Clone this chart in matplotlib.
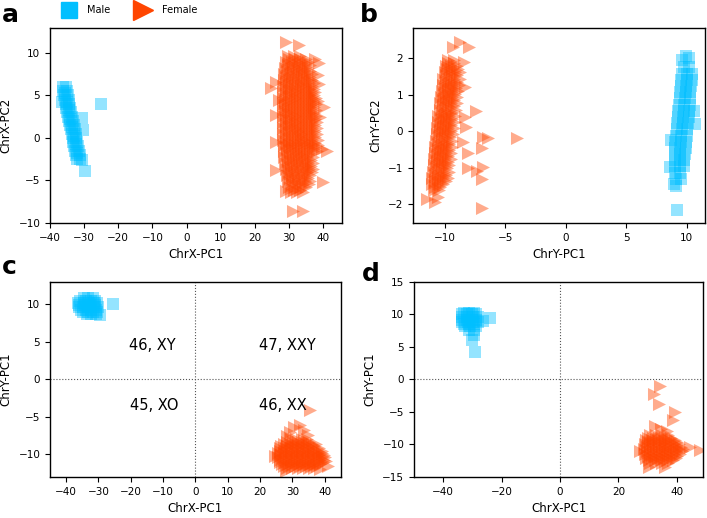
import matplotlib.pyplot as plt
from matplotlib.lines import Line2D
import numpy as np

MALE_COLOR = '#00BFFF'
FEMALE_COLOR = '#FF4500'

# ---- data: rows of (y, [x values]) plus loose points ----
# panel a: ChrX-PC1 vs ChrX-PC2
a_male_rows = [
    (5.5, [-36.2, -35.0]), (5.0, [-35.9, -34.8]), (4.5, [-35.7, -34.5]),
    (4.0, [-35.4, -34.3]), (3.5, [-35.2, -34.0]), (3.0, [-34.9, -33.8]),
    (2.5, [-34.7, -33.5]), (2.0, [-34.4, -33.3]), (1.5, [-34.2, -33.0]),
    (1.0, [-33.9, -32.8]), (0.5, [-33.7, -32.5]), (0.0, [-33.4, -32.3]),
    (-0.5, [-33.2, -32.0]), (-1.0, [-32.9, -31.8]), (-1.5, [-32.7, -31.5]),
    (-2.0, [-32.4, -31.3]), (-2.5, [-32.1, -31.1]),
    (5.25, [-35.5]), (4.25, [-35.0]), (3.25, [-34.5]), (2.25, [-34.0]),
    (1.25, [-33.5]), (0.25, [-33.0]), (-0.75, [-32.5]), (-1.75, [-32.0]),
]
a_male_extra = [(-36.5, 4.2), (-36.3, 6.0), (-35.2, 6.0), (-30.6, 2.3),
                (-30.2, 0.9), (-30.5, -2.6), (-25.2, 4.0), (-29.8, -3.9)]

a_female_rows = [
    (9.6, [29.6, 31.4, 33.2]),
    (9.25, [29.9, 31.6, 33.3, 35.0]),
    (8.9, [29.1, 30.8, 32.5, 34.2, 35.6]),
    (8.55, [29.6, 31.3, 33.0, 34.7, 36.2]),
    (8.2, [28.8, 30.5, 32.2, 33.9, 35.5]),
    (7.85, [29.4, 31.1, 32.8, 34.5, 36.0]),
    (7.5, [28.6, 30.3, 32.0, 33.7, 35.4, 36.6]),
    (7.15, [29.2, 30.9, 32.6, 34.3, 36.0]),
    (6.8, [28.4, 30.1, 31.8, 33.5, 35.2, 36.8]),
    (6.45, [29.1, 30.8, 32.5, 34.2, 35.9, 37.4]),
    (6.1, [28.3, 30.0, 31.7, 33.4, 35.1, 36.8]),
    (5.75, [29.0, 30.7, 32.4, 34.1, 35.8, 37.3]),
    (5.4, [28.2, 29.9, 31.6, 33.3, 35.0, 36.7, 37.6]),
    (5.05, [29.0, 30.7, 32.4, 34.1, 35.8, 37.3]),
    (4.7, [28.2, 29.9, 31.6, 33.3, 35.0, 36.7, 37.8]),
    (4.35, [28.9, 30.6, 32.3, 34.0, 35.7, 37.2, 38.4]),
    (4.0, [28.1, 29.8, 31.5, 33.2, 34.9, 36.6, 37.9]),
    (3.65, [28.9, 30.6, 32.3, 34.0, 35.7, 37.4]),
    (3.3, [28.1, 29.8, 31.5, 33.2, 34.9, 36.6, 38.0]),
    (2.95, [29.0, 30.7, 32.4, 34.1, 35.8, 37.4]),
    (2.6, [28.2, 29.9, 31.6, 33.3, 35.0, 36.7, 38.0]),
    (2.25, [29.0, 30.7, 32.4, 34.1, 35.8, 37.5]),
    (1.9, [28.2, 29.9, 31.6, 33.3, 35.0, 36.7, 38.2]),
    (1.55, [29.0, 30.7, 32.4, 34.1, 35.8, 37.5]),
    (1.2, [28.2, 29.9, 31.6, 33.3, 35.0, 36.7, 38.3]),
    (0.85, [29.1, 30.8, 32.5, 34.2, 35.9, 37.6]),
    (0.5, [28.3, 30.0, 31.7, 33.4, 35.1, 36.8, 38.3]),
    (0.15, [29.1, 30.8, 32.5, 34.2, 35.9, 37.6]),
    (-0.2, [28.3, 30.0, 31.7, 33.4, 35.1, 36.8, 38.4]),
    (-0.55, [29.2, 30.9, 32.6, 34.3, 36.0, 37.7]),
    (-0.9, [28.4, 30.1, 31.8, 33.5, 35.2, 36.9, 38.4]),
    (-1.25, [29.3, 31.0, 32.7, 34.4, 36.1, 37.7]),
    (-1.6, [28.5, 30.2, 31.9, 33.6, 35.3, 37.0, 38.2]),
    (-1.95, [29.4, 31.1, 32.8, 34.5, 36.2]),
    (-2.3, [28.6, 30.3, 32.0, 33.7, 35.4, 37.0]),
    (-2.65, [29.6, 31.3, 33.0, 34.7, 36.4]),
    (-3.0, [28.8, 30.5, 32.2, 33.9, 35.6, 37.0]),
    (-3.35, [29.8, 31.5, 33.2, 34.9, 36.5]),
    (-3.7, [29.0, 30.7, 32.4, 34.1, 35.8, 37.0]),
    (-4.05, [30.1, 31.8, 33.5, 35.2, 36.6]),
    (-4.4, [29.3, 31.0, 32.7, 34.4, 36.0]),
    (-4.75, [30.4, 32.1, 33.8, 35.5]),
    (-5.1, [29.6, 31.3, 33.0, 34.7, 36.2]),
    (-5.45, [30.8, 32.5, 34.2, 35.7]),
    (-5.8, [30.0, 31.7, 33.4, 35.0]),
    (-6.1, [31.4, 33.1]),
    (-6.4, [30.6, 32.3, 34.0]),
]
a_female_extra = [(29.0, 11.3), (32.9, 10.9), (37.5, 9.3), (38.8, 8.8), (24.8, 5.8),
                  (26.3, 6.6), (38.8, 6.3), (40.3, 3.6), (39.0, 2.4), (26.2, 2.7),
                  (26.3, -0.5), (39.7, -1.3), (41.2, -1.5), (26.3, -3.8), (39.8, -5.2),
                  (29.2, -6.2), (31.2, -8.6), (34.1, -8.6), (38.5, 7.4), (27.0, 4.5)]

# panel b: ChrY-PC1 vs ChrY-PC2
b_female_rows = [
    (1.95, [-9.7, -9.2]), (1.87, [-9.7, -9.25]), (1.78, [-9.9, -9.45, -9.0]),
    (1.70, [-9.8, -9.35, -8.9]), (1.61, [-10.0, -9.55, -9.1, -8.7]),
    (1.53, [-9.85, -9.4, -8.95]), (1.44, [-10.1, -9.65, -9.2, -8.75]),
    (1.36, [-9.9, -9.45, -9.0]), (1.27, [-10.15, -9.7, -9.25, -8.8]),
    (1.19, [-9.95, -9.5, -9.05]), (1.10, [-10.2, -9.75, -9.3, -8.85]),
    (1.02, [-10.05, -9.6, -9.15]), (0.93, [-10.3, -9.85, -9.4, -8.95]),
    (0.85, [-10.1, -9.65, -9.2]), (0.76, [-10.35, -9.9, -9.45, -9.0]),
    (0.68, [-10.15, -9.7, -9.25]), (0.59, [-10.4, -9.95, -9.5, -9.05]),
    (0.51, [-10.25, -9.8, -9.35]), (0.42, [-10.5, -10.05, -9.6, -9.15]),
    (0.34, [-10.3, -9.85, -9.4]), (0.25, [-10.55, -10.1, -9.65, -9.2]),
    (0.17, [-10.35, -9.9, -9.45]), (0.08, [-10.6, -10.15, -9.7, -9.25]),
    (0.00, [-10.4, -9.95, -9.5]), (-0.09, [-10.65, -10.2, -9.75, -9.3]),
    (-0.17, [-10.45, -10.0, -9.55]), (-0.26, [-10.7, -10.25, -9.8, -9.35]),
    (-0.34, [-10.5, -10.05, -9.6]), (-0.43, [-10.75, -10.3, -9.85, -9.4]),
    (-0.51, [-10.55, -10.1, -9.65]), (-0.60, [-10.8, -10.35, -9.9, -9.45]),
    (-0.68, [-10.6, -10.15, -9.7]), (-0.77, [-10.85, -10.4, -9.95, -9.5]),
    (-0.85, [-10.65, -10.2, -9.75]), (-0.94, [-10.9, -10.45, -10.0, -9.6]),
    (-1.02, [-10.7, -10.25, -9.8]), (-1.11, [-10.95, -10.5, -10.05, -9.65]),
    (-1.19, [-10.75, -10.3, -9.85]), (-1.28, [-11.0, -10.55, -10.1, -9.7]),
    (-1.36, [-10.8, -10.35, -9.9]), (-1.45, [-11.0, -10.55, -10.1]),
    (-1.53, [-10.8, -10.35]), (-1.62, [-10.9, -10.45]),
]
b_female_extra = [(-11.45, -1.85), (-10.8, -1.95), (-10.5, -1.8), (-8.7, 2.45), (-8.0, 2.3),
                  (-9.3, 2.3), (-8.4, 1.9), (-7.4, 0.55), (-8.3, 0.4), (-6.8, -0.15),
                  (-6.4, -0.2), (-4.0, -0.2), (-6.9, -0.45), (-8.1, -0.6), (-8.1, -1.0),
                  (-6.8, -0.98), (-7.3, -1.1), (-6.9, -1.3), (-6.9, -2.12), (-8.3, 1.2),
                  (-8.2, 0.1), (-8.5, -0.3)]

b_male_rows = [
    (1.75, [9.75, 10.2]), (1.58, [9.6, 10.05, 10.4]), (1.41, [9.55, 10.0, 10.4]),
    (1.24, [9.5, 9.95, 10.35]), (1.07, [9.45, 9.9, 10.3]), (0.90, [9.4, 9.85, 10.3]),
    (0.73, [9.35, 9.8, 10.25]), (0.56, [9.3, 9.75, 10.2]), (0.39, [9.25, 9.7, 10.15]),
    (0.22, [9.2, 9.65, 10.1]), (0.05, [9.15, 9.6, 10.05]), (-0.12, [9.1, 9.55, 10.0]),
    (-0.29, [9.05, 9.5, 9.95]), (-0.46, [9.0, 9.45, 9.9]), (-0.63, [9.0, 9.45, 9.85]),
    (-0.80, [9.0, 9.4, 9.8]), (-0.97, [9.0, 9.4, 9.75]), (-1.14, [9.05, 9.45]),
    (-1.31, [9.1, 9.5]),
]
b_male_extra = [(9.95, 2.05), (10.15, 2.0), (9.6, 1.95), (10.6, 0.55), (10.7, 0.2),
                (8.7, -0.25), (8.6, -0.98), (8.9, -1.45), (9.1, -1.5), (9.2, -2.17)]

# panel c: ChrX-PC1 vs ChrY-PC1
c_male_rows = [
    (10.8, [-34.6, -33.2, -31.8]), (10.5, [-35.6, -34.0, -32.4, -31.0]),
    (10.2, [-36.2, -34.6, -33.0, -31.4, -30.4]), (9.9, [-36.0, -34.3, -32.7, -31.1]),
    (9.6, [-36.0, -34.7, -33.1, -31.5, -30.2]), (9.3, [-35.4, -33.8, -32.2, -30.7]),
    (9.0, [-34.8, -33.3, -31.8, -30.5]), (8.7, [-33.6, -32.2, -30.9]),
]
c_male_extra = [(-25.6, 10.1), (-29.4, 8.6)]

c_female_rows = [
    (-8.0, [29.5, 31.2, 32.9, 34.6]),
    (-8.3, [28.4, 30.1, 31.8, 33.5, 35.2]),
    (-8.6, [27.5, 29.2, 30.9, 32.6, 34.3, 36.0, 37.3]),
    (-8.9, [26.6, 28.3, 30.0, 31.7, 33.4, 35.1, 36.8]),
    (-9.2, [26.2, 27.9, 29.6, 31.3, 33.0, 34.7, 36.4, 38.1]),
    (-9.5, [26.0, 27.7, 29.4, 31.1, 32.8, 34.5, 36.2, 37.9, 39.2]),
    (-9.8, [25.6, 27.3, 29.0, 30.7, 32.4, 34.1, 35.8, 37.5, 39.0]),
    (-10.1, [26.4, 28.1, 29.8, 31.5, 33.2, 34.9, 36.6, 38.3, 39.8]),
    (-10.4, [25.4, 27.1, 28.8, 30.5, 32.2, 33.9, 35.6, 37.3, 39.0, 40.2]),
    (-10.7, [26.2, 27.9, 29.6, 31.3, 33.0, 34.7, 36.4, 38.1, 39.7]),
    (-11.0, [26.0, 27.7, 29.4, 31.1, 32.8, 34.5, 36.2, 37.9, 39.4]),
    (-11.3, [26.8, 28.5, 30.2, 31.9, 33.6, 35.3, 37.0, 38.6]),
    (-11.6, [27.3, 29.0, 30.7, 32.4, 34.1, 35.8, 37.5]),
    (-11.8, [28.2, 29.9, 31.6, 33.3, 35.0, 36.6]),
]
c_female_extra = [(29.1, -7.0), (32.2, -6.1), (30.5, -6.4), (33.5, -6.8), (35.3, -4.1),
                  (28.3, -7.6), (34.8, -7.4), (24.6, -10.2), (40.5, -10.9), (41.0, -11.5),
                  (28.0, -12.2), (38.5, -12.0)]

# panel d: ChrX-PC1 vs ChrY-PC1
d_male_rows = [
    (10.3, [-33.0, -31.2, -29.4]), (10.0, [-33.6, -32.0, -30.3, -28.6]),
    (9.6, [-33.5, -31.7, -29.9, -28.1]), (9.2, [-33.6, -32.0, -30.3, -28.6]),
    (8.9, [-33.4, -31.6, -29.8, -28.0]), (8.5, [-32.8, -31.1, -29.4]),
    (8.2, [-32.5, -30.7, -28.9]), (7.6, [-31.2, -29.5]),
]
d_male_extra = [(-24.0, 9.4), (-26.5, 9.0), (-30.0, 6.1), (-29.5, 6.8), (-29.1, 4.3)]

d_female_rows = [
    (-8.6, [31.0, 33.0, 35.0, 37.0]),
    (-8.95, [30.0, 32.0, 34.0, 36.0, 38.0]),
    (-9.3, [29.5, 31.5, 33.5, 35.5, 37.5, 39.3]),
    (-9.65, [30.0, 32.0, 34.0, 36.0, 38.0, 40.0]),
    (-10.0, [29.0, 31.0, 33.0, 35.0, 37.0, 39.0, 40.8]),
    (-10.35, [29.8, 31.8, 33.8, 35.8, 37.8, 39.8, 41.6]),
    (-10.7, [28.8, 30.8, 32.8, 34.8, 36.8, 38.8, 40.8, 42.3]),
    (-11.05, [29.8, 31.8, 33.8, 35.8, 37.8, 39.8, 41.8]),
    (-11.4, [29.0, 31.0, 33.0, 35.0, 37.0, 39.0, 41.0]),
    (-11.75, [30.2, 32.2, 34.2, 36.2, 38.2, 40.2]),
    (-12.1, [29.6, 31.6, 33.6, 35.6, 37.6, 39.6]),
    (-12.45, [30.6, 32.6, 34.6, 36.6, 38.6]),
    (-12.8, [31.0, 33.0, 35.0, 37.0]),
]
d_female_extra = [(34.4, -1.0), (32.3, -2.3), (33.8, -3.7), (39.3, -5.0), (38.6, -6.2),
                  (32.5, -7.2), (34.5, -7.6), (36.5, -7.9), (47.8, -10.8), (44.5, -10.4),
                  (27.3, -11.0), (30.5, -13.5), (36.0, -13.5)]

quadrant_labels = ['46, XY', '47, XXY', '45, XO', '46, XX']
quadrant_pos = [(-13.3, 4.5), (28.4, 4.5), (-12.7, -3.5), (27.0, -3.5)]


def to_xy(rows, extra):
    xs, ys = [], []
    for y, row in rows:
        xs += row
        ys += [y] * len(row)
    for x, y in extra:
        xs.append(x)
        ys.append(y)
    return np.array(xs), np.array(ys)


def draw(ax, male, female):
    mx, my = to_xy(*male)
    fx, fy = to_xy(*female)
    ax.scatter(mx, my, s=64, marker='s', color=MALE_COLOR, alpha=0.42, linewidths=0)
    ax.scatter(fx, fy, s=88, marker='>', color=FEMALE_COLOR, alpha=0.45, linewidths=0)
    ax.tick_params(labelsize=7.5, length=3.5, width=0.8)
    for sp in ax.spines.values():
        sp.set_linewidth(1.0)


fig = plt.figure(figsize=(7.07, 5.18), dpi=100)

ax_a = fig.add_axes([0.0707, 0.5695, 0.413, 0.3765])
ax_b = fig.add_axes([0.5842, 0.5695, 0.413, 0.3765])
ax_c = fig.add_axes([0.0707, 0.0792, 0.4116, 0.3764])
ax_d = fig.add_axes([0.5856, 0.0792, 0.4088, 0.3764])

draw(ax_a, (a_male_rows, a_male_extra), (a_female_rows, a_female_extra))
ax_a.set_xlim(-40, 45.5)
ax_a.set_ylim(-10, 12.9)
ax_a.set_xticks(range(-40, 41, 10))
ax_a.set_yticks([-10, -5, 0, 5, 10])
ax_a.set_xlabel('ChrX-PC1', fontsize=8.5)
ax_a.set_ylabel('ChrX-PC2', fontsize=8.5)

draw(ax_b, (b_male_rows, b_male_extra), (b_female_rows, b_female_extra))
ax_b.set_xlim(-12.6, 11.5)
ax_b.set_ylim(-2.52, 2.83)
ax_b.set_xticks([-10, -5, 0, 5, 10])
ax_b.set_yticks([-2, -1, 0, 1, 2])
ax_b.set_xlabel('ChrY-PC1', fontsize=8.5)
ax_b.set_ylabel('ChrY-PC2', fontsize=8.5)

draw(ax_c, (c_male_rows, c_male_extra), (c_female_rows, c_female_extra))
ax_c.set_xlim(-45, 45)
ax_c.set_ylim(-13, 13)
ax_c.set_xticks(range(-40, 41, 10))
ax_c.set_yticks([-10, -5, 0, 5, 10])
ax_c.set_xlabel('ChrX-PC1', fontsize=8.5)
ax_c.set_ylabel('ChrY-PC1', fontsize=8.5)
for lab, (tx, ty) in zip(quadrant_labels, quadrant_pos):
    ax_c.text(tx, ty, lab, fontsize=10.5, ha='center', va='center')

draw(ax_d, (d_male_rows, d_male_extra), (d_female_rows, d_female_extra))
ax_d.set_xlim(-50, 49)
ax_d.set_ylim(-15, 15)
ax_d.set_xticks([-40, -20, 0, 20, 40])
ax_d.set_yticks([-15, -10, -5, 0, 5, 10, 15])
ax_d.set_xlabel('ChrX-PC1', fontsize=8.5)
ax_d.set_ylabel('ChrY-PC1', fontsize=8.5)

for ax in (ax_c, ax_d):
    ax.axhline(0, color='#555555', linestyle=':', linewidth=0.8, zorder=0)
    ax.axvline(0, color='#555555', linestyle=':', linewidth=0.8, zorder=0)

# panel letters
for lab, (px, py) in zip('abcd', [(2, 22), (360, 22), (2, 274), (362, 281)]):
    fig.text(px / 707, 1 - py / 518, lab, fontsize=18, fontweight='bold', va='baseline')

# legend on top
handles = [Line2D([], [], marker='s', color=MALE_COLOR, linestyle='', markersize=12),
           Line2D([], [], marker='>', color=FEMALE_COLOR, linestyle='', markersize=14)]
fig.legend(handles, ['Male', 'Female'], loc='center left', ncol=2, frameon=False,
           bbox_to_anchor=(55 / 707, 1 - 10 / 518), fontsize=7, handletextpad=0.9,
           columnspacing=2.4, borderaxespad=0)

fig.savefig('out.png', dpi=100)
